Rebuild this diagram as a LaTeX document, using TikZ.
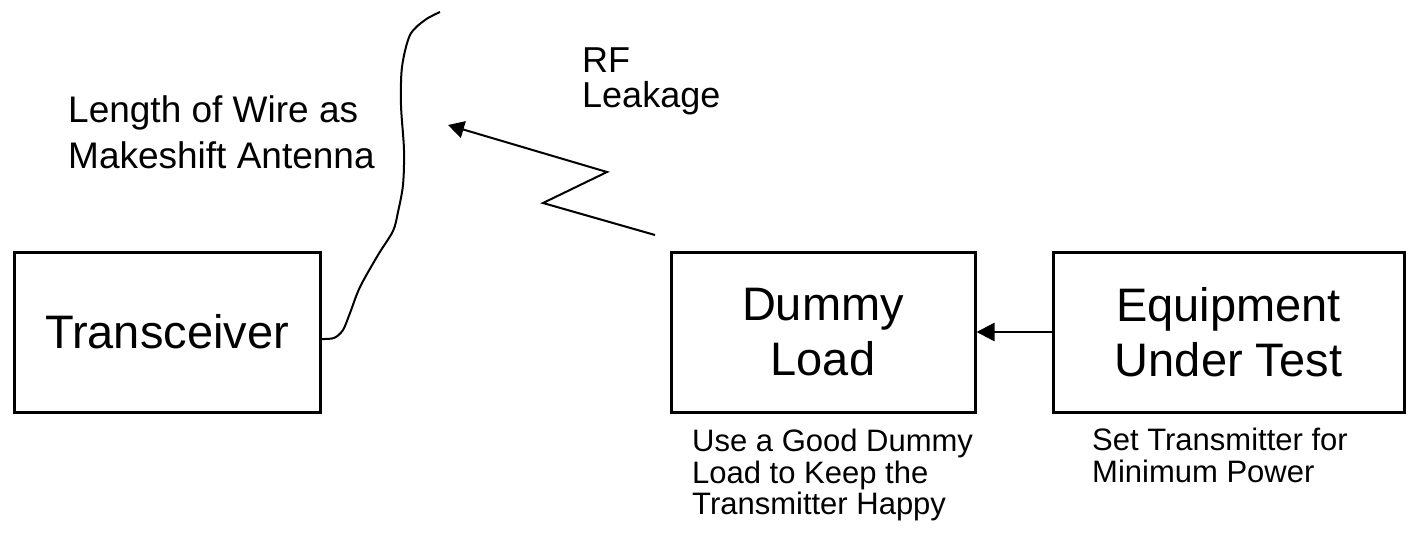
\documentclass[tikz,border=0pt]{standalone}
\usepackage{fontspec}
\setmainfont{Liberation Sans}
\usetikzlibrary{arrows.meta}

\begin{document}
\begin{tikzpicture}[x=1pt, y=-1pt, >={Triangle[length=18pt,width=18pt]},
  box/.style={draw, line width=3pt, minimum height=160pt, align=center, inner sep=0pt,
    font=\fontsize{47}{55}\selectfont},
  note/.style={anchor=north west, align=left, inner sep=0pt}]
\useasboundingbox (0,0) rectangle (1406,536);
\fill[white] (0,0) rectangle (1406,536);
% the three boxes
\node[box, minimum width=306pt] (trx) at (167,332) {Transceiver};
\node[box, minimum width=304pt] (dummy) at (823,332) {Dummy\\Load};
\node[box, minimum width=351pt] (eut) at (1228.5,332) {Equipment\\Under Test};
\draw[->, line width=2.5pt] (eut) -- (dummy);
% wire hanging off the transceiver
\coordinate (wireend) at (440,12);
\draw[line width=2pt] plot[smooth] coordinates {([yshift=-7pt]trx.east) (334,338) (343,330)
  (350,313) (360,287) (378,255) (393,231) (398,212) (403,185) (404,150) (401,105) (402,67)
  (410,35) (425,20) (wireend)};
% rf leakage zigzag
\coordinate (leak) at (655,235);
\coordinate (hit) at (448,125);
\draw[-{Triangle[length=16pt,width=17pt]}, line width=2pt] (leak) -- (543,203) -- (607,172) -- (hit);
% labels
\node[note, font=\fontsize{37}{46}\selectfont] (wirelbl) at (68,95) {Length of Wire as\\Makeshift Antenna};
\node[note, font=\fontsize{36}{35}\selectfont] (rflbl) at (582,48) {RF\\Leakage};
\node[note, font=\fontsize{31}{31.5}\selectfont] (dummylbl) at (692,429) {Use a Good Dummy\\Load to Keep the\\Transmitter Happy};
\node[note, font=\fontsize{31}{31.5}\selectfont] (eutlbl) at (1092,428) {Set Transmitter for\\Minimum Power};
\end{tikzpicture}
\end{document}
